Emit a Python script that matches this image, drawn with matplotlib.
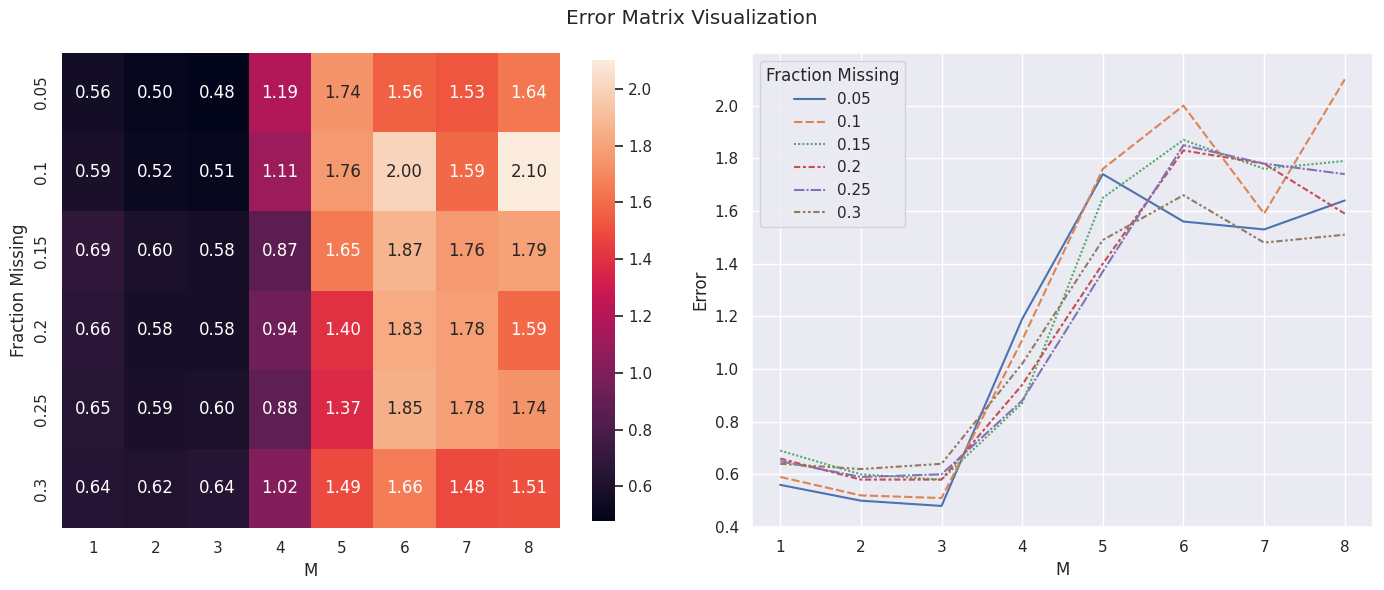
import numpy as np
import pandas as pd
import seaborn as sns
from matplotlib import pyplot as plt

sns.set_theme(style="darkgrid")

fractions = ["0.05", "0.1", "0.15", "0.2", "0.25", "0.3"]
ms = [1, 2, 3, 4, 5, 6, 7, 8]

err_005 = [0.56, 0.50, 0.48, 1.19, 1.74, 1.56, 1.53, 1.64]
err_010 = [0.59, 0.52, 0.51, 1.11, 1.76, 2.00, 1.59, 2.10]
err_015 = [0.69, 0.60, 0.58, 0.87, 1.65, 1.87, 1.76, 1.79]
err_020 = [0.66, 0.58, 0.58, 0.94, 1.40, 1.83, 1.78, 1.59]
err_025 = [0.65, 0.59, 0.60, 0.88, 1.37, 1.85, 1.78, 1.74]
err_030 = [0.64, 0.62, 0.64, 1.02, 1.49, 1.66, 1.48, 1.51]

errors = np.array([err_005, err_010, err_015, err_020, err_025, err_030])
mat = pd.DataFrame(errors, index=fractions, columns=ms)

W, H = 1384, 590
fig, (ax1, ax2) = plt.subplots(1, 2, figsize=(W / 100, H / 100), dpi=100)

sns.heatmap(mat, annot=True, fmt=".2f", ax=ax1)
ax1.set_xlabel("M")
ax1.set_ylabel("Fraction Missing")
plt.setp(ax1.get_yticklabels(), rotation=90, va="center")

long = mat.reset_index().melt(id_vars="index", var_name="M", value_name="Error")
long = long.rename(columns={"index": "Fraction Missing"})
long["M"] = long["M"].astype(int)
sns.lineplot(data=long, x="M", y="Error", hue="Fraction Missing",
             style="Fraction Missing", ax=ax2)
ax2.set_ylim(0.4, 2.2)
ax2.set_yticks(np.arange(0.4, 2.01, 0.2))

fig.suptitle("Error Matrix Visualization", y=0.985)


# place axes in pixel boxes (left, top, right, bottom)
def place(ax, l, t, r, b):
    ax.set_position([l / W, 1 - b / H, (r - l) / W, (b - t) / H])


place(ax1, 62, 53, 560, 528)
place(ax1.collections[0].colorbar.ax, 592, 53, 615, 528)
place(ax2, 752, 53, 1373, 527)

plt.savefig("out.png")
